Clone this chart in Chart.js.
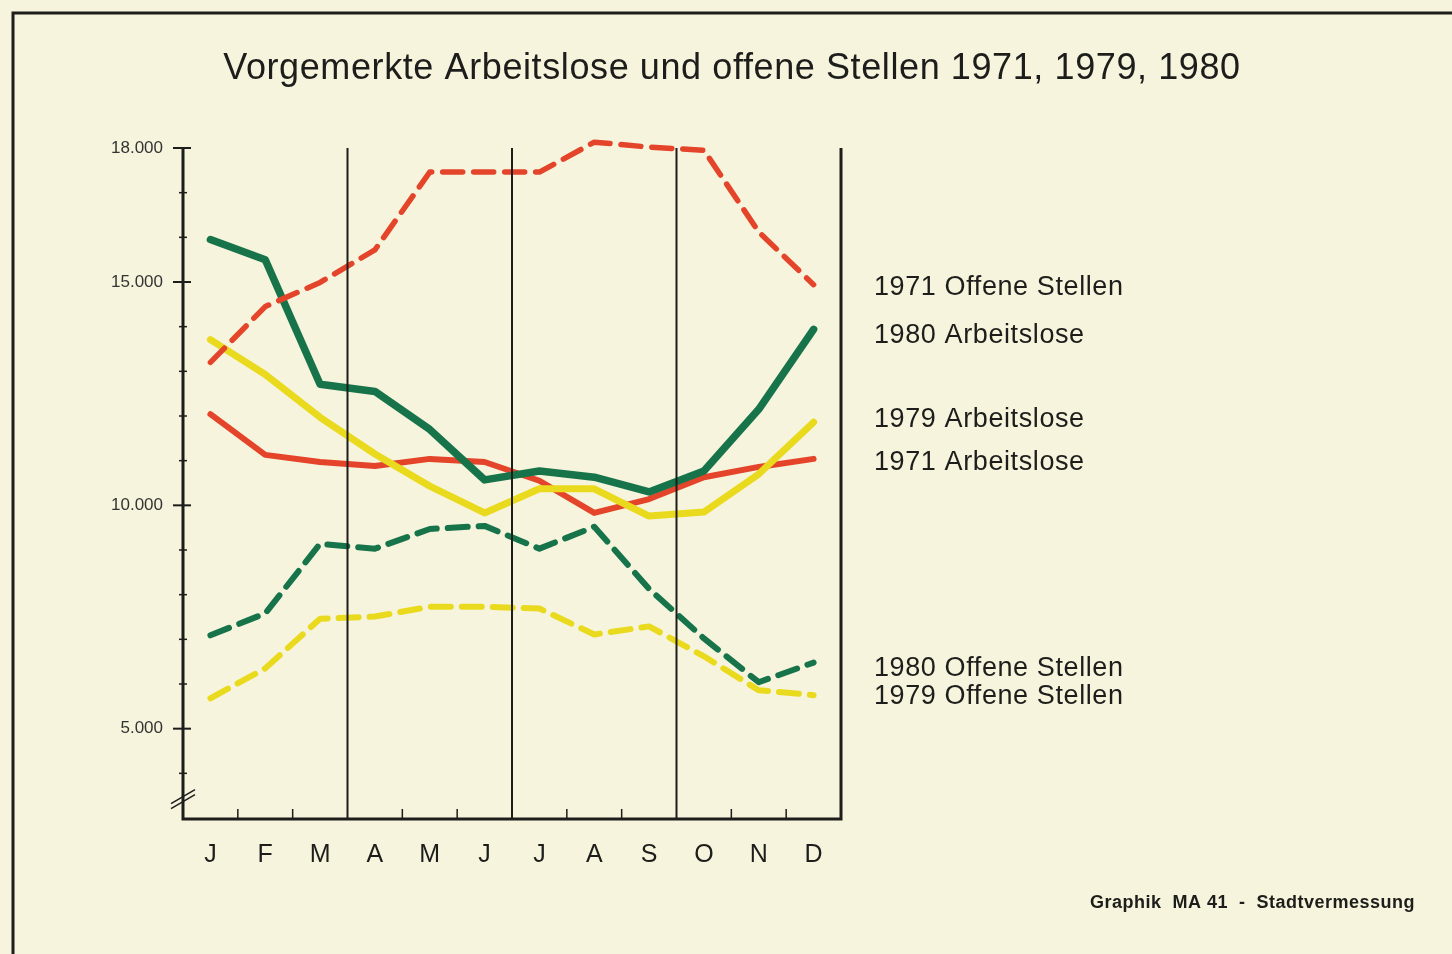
<!DOCTYPE html>
<html>
<head>
<meta charset="utf-8">
<script src="https://cdn.jsdelivr.net/npm/chart.js@4"></script>
<style>
  html, body { margin: 0; padding: 0; background: #f6f4dc; }
  #wrap { width: 1452px; height: 954px; position: relative; }
</style>
</head>
<body>
<div id="wrap"><canvas id="myChart" width="1452" height="954"></canvas></div>
<script>
// Monate
var months = ['J', 'F', 'M', 'A', 'M', 'J', 'J', 'A', 'S', 'O', 'N', 'D'];

var offen1971 = [13200, 14450, 14990, 15720, 17460, 17460, 17460, 18130, 18020, 17950, 16120, 14940];
var arbeitslose1980 = [15950, 15500, 12710, 12550, 11700, 10570, 10770, 10630, 10300, 10770, 12150, 13940];
var arbeitslose1979 = [13710, 12930, 11970, 11150, 10430, 9830, 10370, 10370, 9760, 9850, 10700, 11860];
var arbeitslose1971 = [12040, 11130, 10970, 10880, 11040, 10970, 10550, 9830, 10140, 10630, 10860, 11040];
var offen1980 = [7090, 7580, 9140, 9030, 9470, 9540, 9030, 9520, 8130, 7020, 6040, 6480];
var offen1979 = [5680, 6350, 7460, 7510, 7730, 7730, 7690, 7110, 7290, 6620, 5860, 5750];

var yLabels = [5000, 10000, 15000, 18000];

var green = '#17744a';
var red = '#e4442a';
var yellow = '#eada1e';

var ink = '#1d1d1b';
var fam = '"Liberation Sans", Arial, sans-serif';

// Achsen, Quartalslinien, Beschriftung rechts
var decor = {
  id: 'decor',
  beforeDraw: function (chart) {
    var c = chart.ctx;
    c.save();
    c.fillStyle = '#f6f4dc';
    c.fillRect(0, 0, chart.width, chart.height);
    // Rahmen
    c.strokeStyle = ink;
    c.lineWidth = 3;
    c.beginPath();
    c.moveTo(13, 954);
    c.lineTo(13, 13);
    c.lineTo(1452, 13);
    c.stroke();
    c.restore();
  },
  afterDatasetsDraw: function (chart) {
    var c = chart.ctx;
    var x = chart.scales.x, y = chart.scales.y;
    var a = chart.chartArea;
    var top = y.getPixelForValue(18000);
    var bottom = a.bottom;
    c.save();
    c.strokeStyle = ink;
    c.lineCap = 'butt';
    // Achsen
    c.lineWidth = 3;
    c.beginPath();
    c.moveTo(a.left, top);
    c.lineTo(a.left, bottom + 1);
    c.lineTo(a.right, bottom + 1);
    c.lineTo(a.right, top);
    c.stroke();
    // Quartalslinien
    c.lineWidth = 2;
    [2.5, 5.5, 8.5].forEach(function (i) {
      var px = x.getPixelForValue(i);
      c.beginPath();
      c.moveTo(px, top);
      c.lineTo(px, bottom);
      c.stroke();
    });
    // kleine Striche zwischen Monaten
    c.lineWidth = 1.5;
    for (var i = 0; i < 11; i++) {
      if (i === 2 || i === 5 || i === 8) continue;
      var px = x.getPixelForValue(i + 0.5);
      c.beginPath();
      c.moveTo(px, bottom);
      c.lineTo(px, bottom - 9);
      c.stroke();
    }
    // y Striche
    for (var v = 4000; v <= 18000; v += 1000) {
      var py = y.getPixelForValue(v);
      var major = yLabels.indexOf(v) >= 0;
      c.lineWidth = major ? 2 : 1.5;
      c.beginPath();
      c.moveTo(a.left - (major ? 10 : 4), py);
      c.lineTo(a.left + (major ? 8 : 4), py);
      c.stroke();
    }
    // Achsenbruch
    c.lineWidth = 1.5;
    var by = y.getPixelForValue(3500);
    for (var k = 0; k < 2; k++) {
      c.beginPath();
      c.moveTo(a.left - 12, by + 8 + k * 5);
      c.lineTo(a.left + 12, by - 6 + k * 5);
      c.stroke();
    }
    // Titel
    c.fillStyle = ink;
    c.textBaseline = 'middle';
    c.textAlign = 'center';
    c.letterSpacing = '0.6px';
    c.font = '36px ' + fam;
    c.fillText('Vorgemerkte Arbeitslose und offene Stellen 1971, 1979, 1980', 732, 69);
    // Reihenbeschriftung
    c.textAlign = 'left';
    c.font = '27px ' + fam;
    var names = [
      ['1971 Offene Stellen', 288],
      ['1980 Arbeitslose', 336],
      ['1979 Arbeitslose', 420],
      ['1971 Arbeitslose', 463],
      ['1980 Offene Stellen', 669],
      ['1979 Offene Stellen', 697]
    ];
    names.forEach(function (n) { c.fillText(n[0], 874, n[1]); });
    c.letterSpacing = '0.5px';
    c.font = 'bold 18px ' + fam;
    c.fillText('Graphik  MA 41  -  Stadtvermessung', 1090, 903);
    c.restore();
  }
};

var ctx = document.getElementById('myChart').getContext('2d');
var myChart = new Chart(ctx, {
  type: 'line',
  data: {
    labels: months,
    datasets: [
      { label: '1971 Offene Stellen', data: offen1971, borderColor: red, borderWidth: 5.5, borderDash: [20, 11] },
      { label: '1980 Arbeitslose', data: arbeitslose1980, borderColor: green, borderWidth: 7.5 },
      { label: '1979 Arbeitslose', data: arbeitslose1979, borderColor: yellow, borderWidth: 7 },
      { label: '1971 Arbeitslose', data: arbeitslose1971, borderColor: red, borderWidth: 6 },
      { label: '1980 Offene Stellen', data: offen1980, borderColor: green, borderWidth: 6, borderDash: [20, 11] },
      { label: '1979 Offene Stellen', data: offen1979, borderColor: yellow, borderWidth: 6, borderDash: [20, 11] }
    ]
  },
  options: {
    responsive: false,
    animation: false,
    events: [],
    layout: { padding: { left: 83, right: 611, top: 148, bottom: 70 } },
    datasets: { line: { clip: false } },
    elements: {
      point: { radius: 0 },
      line: { tension: 0, borderCapStyle: 'round', borderJoinStyle: 'round', fill: false }
    },
    plugins: {
      legend: { display: false },
      title: { display: false },
      tooltip: { enabled: false }
    },
    scales: {
      x: {
        offset: true,
        border: { display: false },
        grid: { display: false },
        ticks: {
          color: ink,
          padding: 14,
          font: { size: 25, family: fam }
        },
        afterFit: function (s) { s.height = 66; }
      },
      y: {
        min: 3000,
        max: 18000,
        border: { display: false },
        grid: { display: false },
        afterBuildTicks: function (s) {
          s.ticks = yLabels.map(function (v) { return { value: v }; });
        },
        ticks: {
          color: '#333',
          padding: 12,
          font: { size: 17, family: fam },
          callback: function (v) { return v.toLocaleString('de-DE'); }
        },
        afterFit: function (s) { s.width = 100; }
      }
    }
  },
  plugins: [decor]
});
</script>
</body>
</html>
